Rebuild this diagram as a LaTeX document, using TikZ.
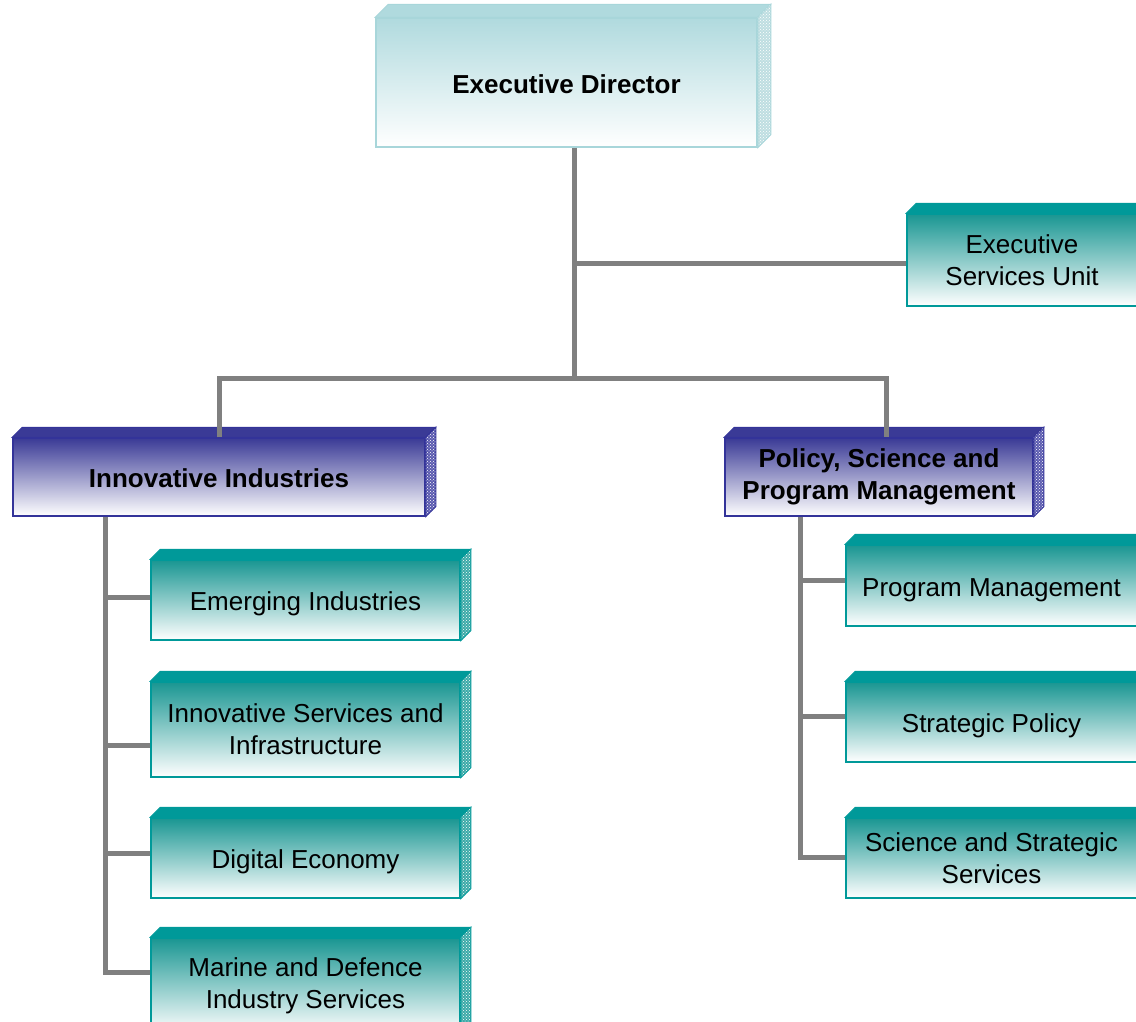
\documentclass[tikz,border=0pt]{standalone}
\usepackage{fontspec}
\setmainfont{Liberation Sans}
\usetikzlibrary{patterns}

\definecolor{tealtop}{RGB}{25,150,146}
\definecolor{tealline}{RGB}{0,153,153}
\definecolor{tealside}{RGB}{60,170,168}
\definecolor{bluetop}{RGB}{58,58,150}
\definecolor{blueline}{RGB}{51,51,153}
\definecolor{blueside}{RGB}{90,90,175}
\definecolor{headtop}{RGB}{176,218,222}
\definecolor{headline}{RGB}{168,214,218}
\definecolor{headside}{RGB}{190,222,225}
\definecolor{linkgrey}{RGB}{128,128,128}

\newcommand{\boxfont}{\fontsize{26}{32}\selectfont}
% top and right faces of a box
\newcommand{\boxfaces}[5]{%
  \filldraw[draw=#5, fill=#3, line width=1pt] (#1.north west) -- ++(#2,-#2) -- ([shift={(#2,-#2)}]#1.north east) -- (#1.north east) -- cycle;
  \path[draw=#5, fill=#4, line width=1pt, postaction={pattern=crosshatch dots, pattern color=white}] (#1.north east) -- ([shift={(#2,-#2)}]#1.north east) -- ([shift={(#2,-#2)}]#1.south east) -- (#1.south east) -- cycle;
}

\tikzset{
  unit/.style={draw=tealline, line width=1.5pt, top color=tealtop, bottom color=white, align=center, font=\boxfont, inner sep=0pt, minimum height=80pt},
  branch/.style={draw=blueline, line width=1.5pt, top color=bluetop, bottom color=white, align=center, font=\boxfont\bfseries, inner sep=0pt, minimum height=78pt},
  head/.style={draw=headline, line width=1.5pt, top color=headtop, bottom color=white, align=center, font=\boxfont\bfseries, inner sep=0pt},
  oneline/.style={text height=21pt, text depth=0pt},
  link/.style={draw=linkgrey, line width=5pt}
}

\begin{document}
\begin{tikzpicture}[x=1pt, y=-1pt]
    \useasboundingbox (0,0) rectangle (1136,1021);
    \clip (0,0) rectangle (1136,1021);

    % boxes
    \node[head, oneline, minimum width=381pt, minimum height=129pt] (exec) at (566.5,82.5) {Executive Director};
    \node[unit, minimum width=230pt, minimum height=92pt] (esu) at (1022,260) {Executive\\Services Unit};
    \node[branch, oneline, minimum width=412pt] (innov) at (219,477) {Innovative Industries};
    \node[branch, minimum width=308pt] (policy) at (879,477) {Policy, Science and\\Program Management};

    \node[unit, oneline, minimum width=309pt] (emerg) at (305.5,600) {Emerging Industries};
    \node[unit, minimum width=309pt, minimum height=95pt] (innsvc) at (305.5,729.5) {Innovative Services and\\Infrastructure};
    \node[unit, oneline, minimum width=309pt] (digital) at (305.5,858) {Digital Economy};
    \node[unit, minimum width=309pt, minimum height=95pt] (marine) at (305.5,985.5) {Marine and Defence\\Industry Services};

    \node[unit, oneline, minimum width=291pt, minimum height=81pt] (progmgt) at (991.5,585.5) {Program Management};
    \node[unit, oneline, minimum width=291pt] (strpol) at (991.5,722) {Strategic Policy};
    \node[unit, minimum width=291pt] (scisvc) at (991.5,858) {Science and Strategic\\Services};

    \boxfaces{exec}{13}{headtop}{headside}{headline}
    \foreach \n in {innov, policy}{
        \boxfaces{\n}{10}{bluetop}{blueside}{blueline}
    }
    \foreach \n in {esu, emerg, innsvc, digital, marine, progmgt, strpol, scisvc}{
        \boxfaces{\n}{10}{tealline}{tealside}{tealline}
    }

    % connectors
    \coordinate (hub) at (574,378);
    \coordinate (esub) at (574,263);
    \draw[link] (exec.south -| hub) -- (hub);
    \draw[link] (esub) -- (esub -| esu.west);
    \draw[link] (innov.north) |- (hub) -| ([xshift=7pt]policy.north);

    \coordinate (spl) at (105,972);
    \draw[link] (innov.south -| spl) -- (spl) -- (spl -| marine.west);
    \foreach \y/\n in {597/emerg, 745/innsvc, 853/digital}
        \draw[link] (105,\y) -- (\n.west |- 0,\y);

    \coordinate (spr) at (800,857);
    \draw[link] (policy.south -| spr) -- (spr) -- (spr -| scisvc.west);
    \foreach \y/\n in {580/progmgt, 716/strpol}
        \draw[link] (800,\y) -- (\n.west |- 0,\y);
\end{tikzpicture}
\end{document}
